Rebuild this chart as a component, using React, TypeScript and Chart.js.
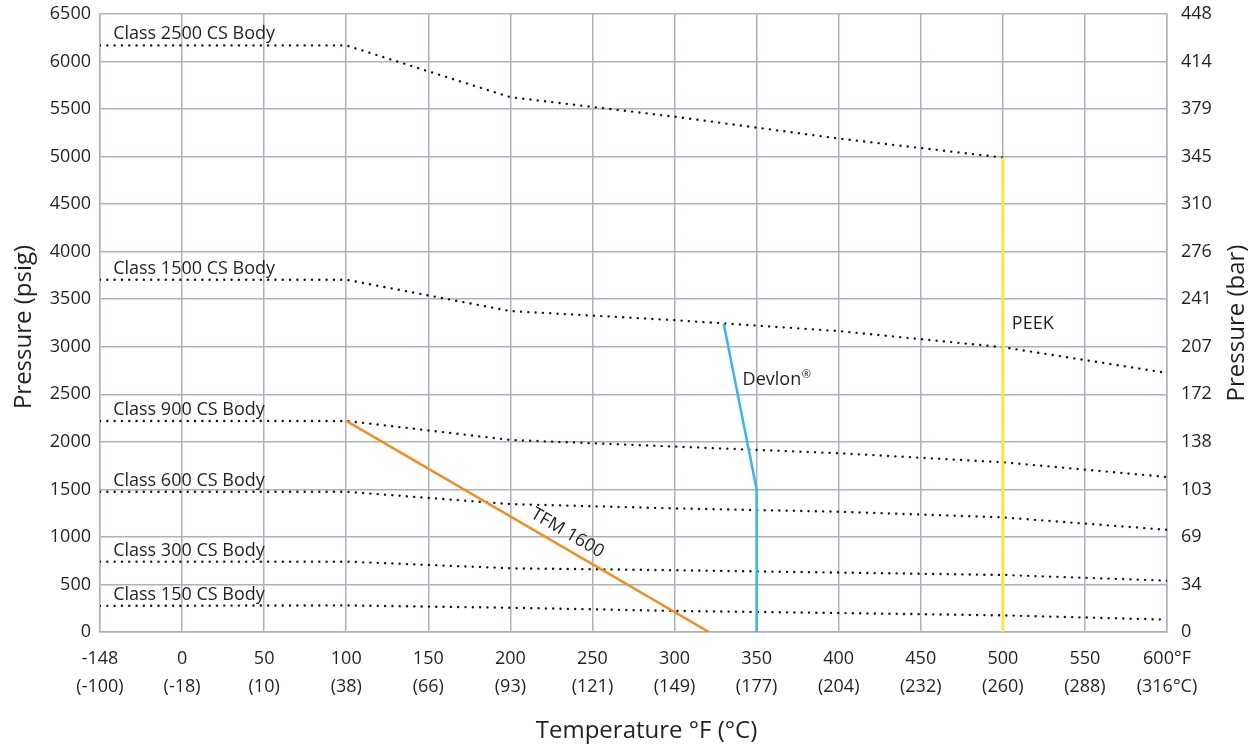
import React, { useEffect, useRef } from 'react';
import { Chart, registerables } from 'chart.js';

Chart.register(...registerables);

const FONT = '"Open Sans", "Noto Sans", sans-serif';
const TEXT = '#231f20';
const GRID = '#a9b3c0';

// Axis tick labels
const xTicksF = ['-148', '0', '50', '100', '150', '200', '250', '300', '350', '400', '450', '500', '550', '600°F'];
const xTicksC = ['(-100)', '(-18)', '(10)', '(38)', '(66)', '(93)', '(121)', '(149)', '(177)', '(204)', '(232)', '(260)', '(288)', '(316°C)'];
const yTicksBar = ['0', '34', '69', '103', '138', '172', '207', '241', '276', '310', '345', '379', '414', '448'];

// Body pressure ratings (psig) at temperatures (°F)
const classTemps = [-148, 100, 200, 300, 400, 500, 600];
const class2500 = [6170, 6170, 5625, 5420, 5190, 4990];
const class1500 = [3705, 3705, 3375, 3280, 3165, 2995, 2725];
const class900 = [2220, 2220, 2020, 1950, 1880, 1785, 1630];
const class600 = [1475, 1475, 1345, 1300, 1265, 1205, 1075];
const class300 = [740, 740, 670, 650, 625, 600, 540];
const class150 = [275, 280, 255, 222, 200, 175, 130];
const classNames = [
  'Class 2500 CS Body',
  'Class 1500 CS Body',
  'Class 900 CS Body',
  'Class 600 CS Body',
  'Class 300 CS Body',
  'Class 150 CS Body',
];

// Seat material limits
const tfmTemps = [100, 321];
const tfmPsi = [2220, 0];
const devlonTemps = [330, 350, 350];
const devlonPsi = [3240, 1500, 0];
const peekTemps = [500, 500];
const peekPsi = [4990, 0];

// Temperature (°F) -> position on the evenly spaced temperature axis
const tempToPos = (t: number) => (t <= -148 ? 0 : t / 50 + 1);

const toPoints = (temps: number[], vals: number[]) =>
  vals.map((v, i) => ({ x: tempToPos(temps[i]), y: v }));

const labelsPlugin = {
  id: 'labelsPlugin',
  afterDatasetsDraw(chart: any) {
    const { ctx, chartArea, scales } = chart;
    const xs = scales.x;
    const ys = scales.y;
    const px = (t: number) => xs.getPixelForValue(tempToPos(t));
    const py = (v: number) => ys.getPixelForValue(v);
    ctx.save();
    ctx.fillStyle = TEXT;
    ctx.font = `18px ${FONT}`;
    ctx.textAlign = 'left';
    ctx.textBaseline = 'alphabetic';
    const firsts = [class2500[0], class1500[0], class900[0], class600[0], class300[0], class150[0]];
    classNames.forEach((name, i) => {
      ctx.fillText(name, xs.getPixelForValue(0.16), py(firsts[i]) - 6);
    });
    // PEEK
    ctx.fillText('PEEK', px(peekTemps[0]) + 9, py(3190));
    // Devlon®
    const dx = px(devlonTemps[1]) - 14;
    const dy = py(2600);
    ctx.fillText('Devlon', dx, dy);
    const w = ctx.measureText('Devlon').width;
    ctx.font = `11px ${FONT}`;
    ctx.fillText('®', dx + w + 0.5, dy - 7);
    // TFM 1600 along its line
    const x1 = px(tfmTemps[0]);
    const y1 = py(tfmPsi[0]);
    const x2 = px(tfmTemps[1]);
    const y2 = py(tfmPsi[1]);
    const a = Math.atan2(y2 - y1, x2 - x1);
    const t = 0.59;
    const cx = x1 + (x2 - x1) * t + Math.sin(a) * 14.3;
    const cy = y1 + (y2 - y1) * t - Math.cos(a) * 14.3;
    ctx.translate(cx, cy);
    ctx.rotate(a);
    ctx.font = `18px ${FONT}`;
    ctx.textAlign = 'center';
    ctx.textBaseline = 'middle';
    ctx.fillText('TFM 1600', 0, 0);
    ctx.restore();

    // Axis titles
    ctx.save();
    ctx.fillStyle = TEXT;
    ctx.font = `24px ${FONT}`;
    ctx.textAlign = 'center';
    ctx.textBaseline = 'middle';
    const midY = (chartArea.top + chartArea.bottom) / 2;
    ctx.fillText('Temperature °F (°C)', (chartArea.left + chartArea.right) / 2 + 13, xs.bottom - 17.4);
    ctx.save();
    ctx.translate(24, midY + 4);
    ctx.rotate(-Math.PI / 2);
    ctx.fillText('Pressure (psig)', 0, 0);
    ctx.restore();
    ctx.save();
    ctx.translate(1237, midY);
    ctx.rotate(-Math.PI / 2);
    ctx.fillText('Pressure (bar)', 0, 0);
    ctx.restore();
    ctx.restore();
  },
};

export default function App() {
  const ref = useRef<HTMLCanvasElement>(null);

  useEffect(() => {
    if (!ref.current) return;
    const dotted = (vals: number[]) => ({
      data: toPoints(classTemps, vals),
      borderColor: '#111111',
      borderWidth: 2.4,
      borderDash: [0.01, 7.3],
      borderCapStyle: 'round',
      pointRadius: 0,
      fill: false,
      tension: 0,
    });
    const solid = (temps: number[], vals: number[], color: string, width: number) => ({
      data: toPoints(temps, vals),
      borderColor: color,
      borderWidth: width,
      pointRadius: 0,
      fill: false,
      tension: 0,
    });
    const tickFont = { family: FONT, size: 18, lineHeight: 28 / 18 };
    const vPadFix = (w: number) => (s: any) => {
      s.width = w;
      s.paddingTop = 0;
      s.paddingBottom = 0;
    };
    const chart = new Chart(ref.current, {
      type: 'line',
      data: {
        datasets: [
          solid(peekTemps, peekPsi, '#f4e842', 3),
          solid(devlonTemps, devlonPsi, '#3cb4e5', 2.5),
          solid(tfmTemps, tfmPsi, '#f68b1f', 2.5),
          dotted(class2500),
          dotted(class1500),
          dotted(class900),
          dotted(class600),
          dotted(class300),
          dotted(class150),
        ] as any,
      },
      options: {
        animation: false,
        responsive: false,
        devicePixelRatio: 1,
        layout: { padding: { top: 14, left: 0, right: 0, bottom: 0 } },
        plugins: { legend: { display: false }, tooltip: { enabled: false } },
        scales: {
          x: {
            type: 'linear',
            min: 0,
            max: 13,
            ticks: {
              stepSize: 1,
              autoSkip: false,
              maxRotation: 0,
              padding: 13,
              color: TEXT,
              font: tickFont,
              callback: (v: any) => {
                const i = Math.round(Number(v));
                return [xTicksF[i], xTicksC[i]];
              },
            },
            grid: { color: GRID, lineWidth: 1.5, drawTicks: false },
            border: { color: GRID, width: 1.5 },
            afterFit: (s: any) => {
              s.height = 117;
              s.paddingLeft = 0;
              s.paddingRight = 0;
            },
          },
          y: {
            position: 'left',
            min: 0,
            max: 6500,
            ticks: {
              stepSize: 500,
              padding: 9,
              color: TEXT,
              font: { family: FONT, size: 18 },
              callback: (v: any) => String(v),
            },
            grid: { color: GRID, lineWidth: 1.5, drawTicks: false },
            border: { color: GRID, width: 1.5 },
            afterFit: vPadFix(100),
          },
          y2: {
            position: 'right',
            min: 0,
            max: 6500,
            ticks: {
              stepSize: 500,
              padding: 14,
              color: TEXT,
              font: { family: FONT, size: 18 },
              callback: (_v: any, i: number) => yTicksBar[i],
            },
            grid: { display: false, drawTicks: false },
            border: { color: GRID, width: 1.5 },
            afterFit: vPadFix(87),
          },
        },
      } as any,
      plugins: [labelsPlugin],
    });
    return () => chart.destroy();
  }, []);

  return (
    <div style={{ position: 'fixed', left: 0, top: 0, width: 1254, height: 749, background: '#fff' }}>
      <canvas ref={ref} width={1254} height={749} />
    </div>
  );
}
